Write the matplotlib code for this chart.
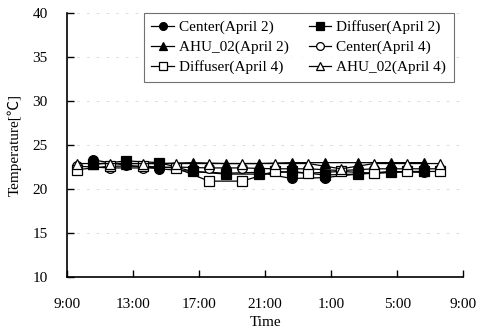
import matplotlib
matplotlib.use('Agg')
import matplotlib.pyplot as plt

plt.rcParams['font.family'] = ['Liberation Serif', 'Noto Sans CJK JP', 'DejaVu Sans']
plt.rcParams['font.size'] = 11

# hours after 9:00
hours_apr2 = [1.6, 3.6, 5.6, 7.6, 9.6, 11.6, 13.6, 15.6, 17.6, 19.6, 21.6]
hours_apr4 = [0.6, 2.6, 4.6, 6.6, 8.6, 10.6, 12.6, 14.6, 16.6, 18.6, 20.6, 22.6]

center_apr2 = [23.3, 22.7, 22.3, 22.0, 21.8, 21.9, 21.2, 21.3, 21.7, 22.0, 21.9]
diffuser_apr2 = [22.8, 23.2, 23.0, 22.0, 21.7, 21.7, 22.0, 21.6, 21.7, 21.9, 22.0]
ahu_apr2 = [22.9, 22.9, 22.9, 23.0, 22.9, 22.9, 23.0, 23.0, 23.0, 23.0, 23.0]
center_apr4 = [22.6, 22.4, 22.4, 22.5, 22.4, 22.4, 22.3, 22.3, 22.1, 22.3, 22.3, 22.3]
diffuser_apr4 = [22.2, 22.6, 22.6, 22.4, 20.9, 20.9, 22.0, 21.8, 22.0, 21.8, 22.0, 22.0]
ahu_apr4 = [22.9, 22.9, 22.9, 22.9, 22.9, 22.9, 22.9, 22.9, 22.3, 22.9, 22.9, 22.9]

tick_hours = [0, 4, 8, 12, 16, 20, 24]
tick_labels = ['9:00', '13:00', '17:00', '21:00', '1:00', '5:00', '9:00']

fig = plt.figure(figsize=(4.79, 3.35), dpi=100)
ax = fig.add_axes([0.140, 0.173, 0.827, 0.788])

ms = 7
kw = dict(color='black', lw=0.9, markersize=ms, markeredgecolor='black', markeredgewidth=0.9)
c2, = ax.plot(hours_apr2, center_apr2, marker='o', markerfacecolor='black', label='Center(April 2)', **kw)
d2, = ax.plot(hours_apr2, diffuser_apr2, marker='s', markerfacecolor='black', label='Diffuser(April 2)', **kw)
a2, = ax.plot(hours_apr2, ahu_apr2, marker='^', markerfacecolor='black', label='AHU_02(April 2)', **kw)
c4, = ax.plot(hours_apr4, center_apr4, marker='o', markerfacecolor='white', label='Center(April 4)', **kw)
d4, = ax.plot(hours_apr4, diffuser_apr4, marker='s', markerfacecolor='white', label='Diffuser(April 4)', **kw)
a4, = ax.plot(hours_apr4, ahu_apr4, marker='^', markerfacecolor='white', label='AHU_02(April 4)', **kw)

ax.set_xlim(0, 24)
ax.set_ylim(10, 40)
ax.set_xticks(tick_hours)
ax.set_xticklabels(tick_labels)
ax.set_yticks(range(10, 41, 5))
ax.tick_params(direction='in', length=5, width=1)
ax.tick_params(axis='y', pad=14)
ax.tick_params(axis='x', pad=15)
for s in ['top', 'right']:
    ax.spines[s].set_visible(False)
for s in ['left', 'bottom']:
    ax.spines[s].set_linewidth(1.2)
ax.yaxis.grid(True, color='0.82', lw=0.5, linestyle=(0, (4, 10)))

ax.set_xlabel('Time', labelpad=4)
ax.set_ylabel('Temperature[\u2103]', labelpad=8)

handles = [c2, a2, d4, d2, c4, a4]
leg = ax.legend(handles, [h.get_label() for h in handles], ncol=2, loc='upper right',
                bbox_to_anchor=(0.995, 1.03), frameon=True,
                fancybox=False, edgecolor='0.3', handlelength=1.5, handletextpad=0.3,
                columnspacing=1.3, labelspacing=0.4, borderpad=0.5, markerscale=0.8)
leg.get_frame().set_linewidth(0.8)

fig.savefig('out.png', dpi=100)
